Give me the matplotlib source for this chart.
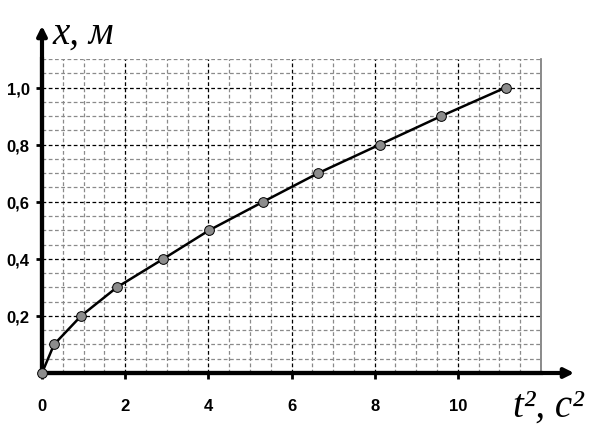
import numpy as np
import matplotlib.pyplot as plt
from matplotlib.ticker import MultipleLocator

plt.rcParams['font.family'] = ['Liberation Sans', 'DejaVu Sans']
plt.rcParams['font.weight'] = 'bold'

t2 = [0, 0.29, 0.94, 1.8, 2.92, 4.02, 5.32, 6.64, 8.12, 9.6, 11.15]
x = [0, 0.1, 0.2, 0.3, 0.4, 0.5, 0.6, 0.7, 0.8, 0.9, 1.0]
xticks = [0, 2, 4, 6, 8, 10]
yticks = [0.2, 0.4, 0.6, 0.8, 1.0]
ylabels = ['0,2', '0,4', '0,6', '0,8', '1,0']

fig = plt.figure(figsize=(5.95, 4.27), dpi=100)
ax = fig.add_axes([42 / 595, 53 / 427, 499 / 595, 314 / 427])

ax.set_xlim(0, 12)
ax.set_ylim(0, 1.1)

ax.xaxis.set_minor_locator(MultipleLocator(0.5))
ax.yaxis.set_minor_locator(MultipleLocator(0.05))
ax.grid(which='minor', color='#8a8a8a', linestyle=(0, (3, 2)), linewidth=0.9)
ax.grid(which='major', color='black', linestyle=(0, (3, 2)), linewidth=0.9)
ax.set_axisbelow(True)

ax.plot(t2, x, color='black', linewidth=1.8, zorder=3)
ax.plot(t2, x, 'o', markersize=7, markerfacecolor='#8c8c8c',
        markeredgecolor='black', markeredgewidth=0.7, zorder=4, clip_on=False)

ax.set_xticks(xticks)
ax.set_xticklabels([str(v) for v in xticks], fontsize=12, fontweight='bold')
ax.set_yticks(yticks)
ax.set_yticklabels(ylabels, fontsize=12, fontweight='bold')
ax.tick_params(which='minor', length=0)
ax.tick_params(which='major', length=4, width=2, direction='out', pad=14, colors='black')
ax.tick_params(axis='y', pad=5)

ax.spines['top'].set_visible(False)
ax.spines['right'].set_color('#777777')
ax.spines['right'].set_linewidth(1.2)
ax.spines['left'].set_linewidth(3)
ax.spines['bottom'].set_linewidth(3)

# axis arrows
ax.annotate('', xy=(577 / 595, 53 / 427), xytext=(42 / 595, 53 / 427),
            xycoords='figure fraction', textcoords='figure fraction',
            arrowprops=dict(arrowstyle='-|>', color='black', lw=3, mutation_scale=14))
ax.annotate('', xy=(42 / 595, 403 / 427), xytext=(42 / 595, 53 / 427),
            xycoords='figure fraction', textcoords='figure fraction',
            arrowprops=dict(arrowstyle='-|>', color='black', lw=3, mutation_scale=14))

fig.text(52 / 595, 393 / 427, 'x, м', family=['Liberation Serif', 'DejaVu Serif'],
         style='italic', weight='normal', fontsize=28, ha='left', va='center')
fig.text(548 / 595, 20 / 427, 't², с²', family=['Liberation Serif', 'DejaVu Serif'],
         style='italic', weight='normal', fontsize=28, ha='center', va='center')

fig.savefig('out.png', dpi=100)
